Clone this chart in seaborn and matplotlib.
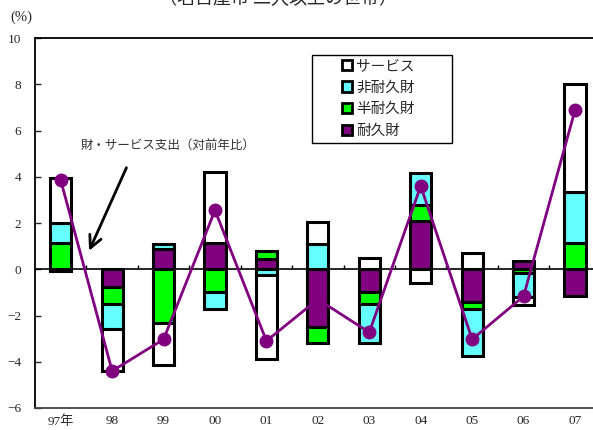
import numpy as np
import matplotlib
matplotlib.use("Agg")
import matplotlib.pyplot as plt
import seaborn as sns
from matplotlib.patches import Patch, Rectangle

# ------ DATA ------ #
years = ["97年", "98", "99", "00", "01", "02", "03", "04", "05", "06", "07"]
durable = [-0.08, -0.78, 0.87, 1.13, 0.43, -2.5, -1.0, 2.08, -1.43, 0.35, -1.17]
semi_durable = [1.13, -0.72, -2.33, -1.0, 0.35, -0.7, -0.5, 0.72, -0.27, -0.17, 1.13]
non_durable = [0.87, -1.1, 0.21, -0.7, -0.27, 1.08, -1.7, 1.37, -2.07, -1.03, 2.2]
services = [1.95, -1.82, -1.83, 3.07, -3.63, 0.95, 0.48, -0.6, 0.7, -0.35, 4.67]
total = [3.85, -4.4, -3.03, 2.55, -3.1, -1.3, -2.73, 3.6, -3.03, -1.17, 6.88]

# stacking order, from zero outwards
components = [
    ("耐久財", durable, "#800080"),
    ("半耐久財", semi_durable, "#00ff00"),
    ("非耐久財", non_durable, "#66ffff"),
    ("サービス", services, "#ffffff"),
]

sns.set_style("white")
plt.rcParams["font.family"] = ["Liberation Serif", "Noto Sans CJK JP"]
plt.rcParams["axes.unicode_minus"] = True

fig = plt.figure(figsize=(5.93, 4.30), dpi=100)
ax = fig.add_axes([35 / 593, 1 - 408 / 430, 1 - 35 / 593, 370 / 430])

ax.axhline(0, color="black", lw=1.2, zorder=1)

# ------ STACKED BARS (positive and negative stacked separately) ------ #
pos = np.zeros(len(years))
neg = np.zeros(len(years))
for name, vals, col in components:
    vals = np.array(vals)
    bottom = np.where(vals >= 0, pos, neg)
    sns.barplot(x=years, y=vals, bottom=bottom, color=col, saturation=1,
                width=0.41, edgecolor="black", linewidth=2.2, errorbar=None,
                ax=ax, zorder=2)
    pos = pos + np.clip(vals, 0, None)
    neg = neg + np.clip(vals, None, 0)

# ------ TOTAL LINE ------ #
ax.plot(np.arange(len(years)), total, color="#800080", lw=2,
        marker="o", markersize=9, zorder=3)

# small ticks on the zero line between years
ax.vlines(np.arange(len(years) - 1) + 0.5, 0, 0.17, color="black", lw=1, zorder=1)

ax.set_xlim(-0.5, 10.35)
ax.set_ylim(-6, 10)
ax.set_yticks(range(-6, 11, 2))
ax.set_xlabel("")
ax.set_ylabel("")
ax.tick_params(axis="y", direction="in", length=4, width=1, pad=10,
               labelsize=9.5, left=True)
ax.tick_params(axis="x", length=0, pad=5, labelsize=9.5)

for s in ["left", "bottom", "top"]:
    ax.spines[s].set_color("black")
    ax.spines[s].set_linewidth(1.3)
ax.spines["right"].set_visible(False)
ax.spines["bottom"].set_color("#444444")

# ------ TEXTS ------ #
fig.text(10 / 593, 1 - 17 / 430, "(%)", fontsize=10.5, va="center")
fig.text(278 / 593, 1 - 8 / 430, "（名古屋市 二人以上の世帯）", fontsize=13,
         ha="center", va="bottom", family=["Noto Sans CJK JP"])

ax.annotate("", xy=(0.53, 0.69), xytext=(1.3, 4.5),
            arrowprops=dict(arrowstyle="->", color="black", lw=2,
                            mutation_scale=22))
ax.text(2.08, 5.3, "財・サービス支出（対前年比）", fontsize=9, ha="center",
        va="center", color="#333333", family=["Noto Sans CJK JP"])

# ------ LEGEND ------ #
handles = [Patch(facecolor=col, edgecolor="black", linewidth=2, label=name)
           for name, vals, col in components[::-1]]
leg = ax.legend(handles=handles, loc="upper left", bbox_to_anchor=(0.55, 0.943),
                frameon=False, handlelength=0.7, handleheight=0.7,
                handletextpad=0.3, borderpad=0, labelspacing=0.52,
                prop={"family": "Noto Sans CJK JP", "size": 10.5},
                borderaxespad=0)
ax.add_patch(Rectangle((0.4964, 0.716), 0.2509, 0.238, transform=ax.transAxes,
                       facecolor="none", edgecolor="black", lw=1, zorder=4))

fig.savefig("out.png", dpi=100)
